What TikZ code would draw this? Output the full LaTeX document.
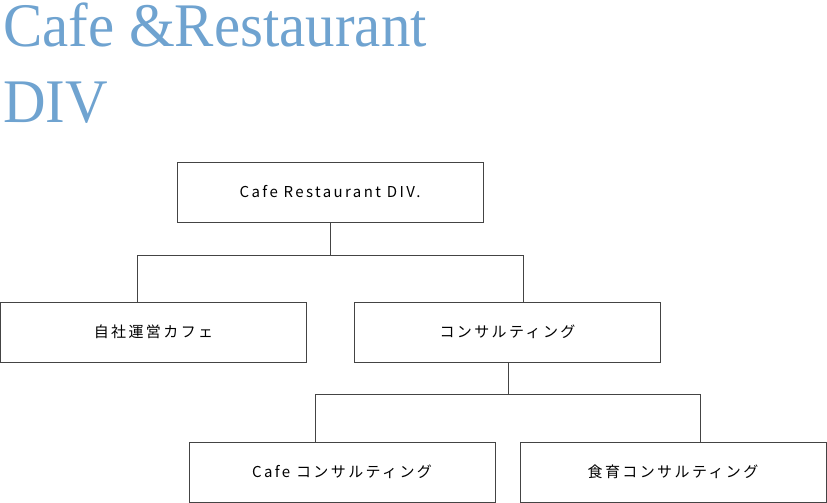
\documentclass[tikz,border=0pt]{standalone}
\usepackage{fontspec}
\setmainfont{Liberation Serif}
\newfontfamily\jpfont[LetterSpace=16]{Noto Sans CJK JP}
\definecolor{titleblue}{HTML}{6FA3D0}
\definecolor{linegray}{HTML}{444444}
\begin{document}
\begin{tikzpicture}[x=1pt,y=1pt,
  orgbox/.style={draw=linegray,line width=1pt,minimum width=306pt,minimum height=60pt,inner sep=0pt,font=\jpfont\fontsize{15}{17}\selectfont,text=black},
  conn/.style={draw=linegray,line width=1pt},
  titletext/.style={text=titleblue,inner sep=0pt,anchor=base west,font=\fontsize{62}{62}\selectfont,xscale=0.95}]
\useasboundingbox (0,0) rectangle (827,-503);
\node[titletext] (t1) at (3,-47) {Cafe \&Restaurant};
\node[titletext] (t2) at (3,-122) {DIV};
\node[orgbox] (top) at (330,-192) {Cafe Restaurant DIV.};
\node[orgbox] (own) at (153.5,-332) {自社運営カフェ};
\node[orgbox] (cons) at (507.5,-332) {コンサルティング};
\node[orgbox] (cafec) at (342,-472) {Cafe コンサルティング};
\node[orgbox] (food) at (673,-472) {食育コンサルティング};
\coordinate (j1) at (330,-255);
\coordinate (j1l) at (137,-255);
\coordinate (j1r) at (523,-255);
\coordinate (j2) at (508,-394);
\coordinate (j2l) at (315,-394);
\coordinate (j2r) at (700,-394);
\draw[conn] (top.south) -- (j1);
\draw[conn] (j1l) -- (j1r);
\draw[conn] (j1l) -- (j1l |- own.north);
\draw[conn] (j1r) -- (j1r |- cons.north);
\draw[conn] (cons.south -| j2) -- (j2);
\draw[conn] (j2l) -- (j2r);
\draw[conn] (j2l) -- (j2l |- cafec.north);
\draw[conn] (j2r) -- (j2r |- food.north);
\end{tikzpicture}
\end{document}
